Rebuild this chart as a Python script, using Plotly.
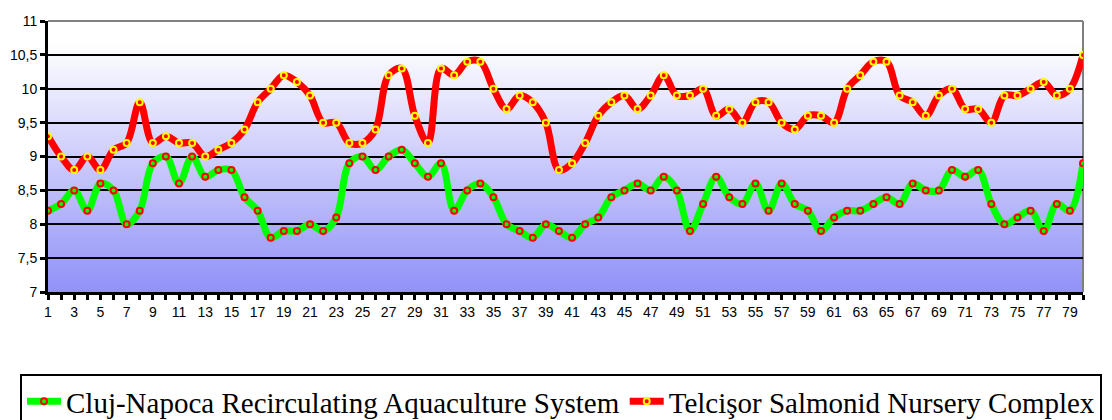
import base64
import plotly.graph_objects as go

# Daily readings, days 1-80
days = list(range(1, 81))

cluj_napoca = [
    8.2, 8.3, 8.5, 8.2, 8.6, 8.5, 8.0, 8.2, 8.9, 9.0,
    8.6, 9.0, 8.7, 8.8, 8.8, 8.4, 8.2, 7.8, 7.9, 7.9,
    8.0, 7.9, 8.1, 8.9, 9.0, 8.8, 9.0, 9.1, 8.9, 8.7,
    8.9, 8.2, 8.5, 8.6, 8.4, 8.0, 7.9, 7.8, 8.0, 7.9,
    7.8, 8.0, 8.1, 8.4, 8.5, 8.6, 8.5, 8.7, 8.5, 7.9,
    8.3, 8.7, 8.4, 8.3, 8.6, 8.2, 8.6, 8.3, 8.2, 7.9,
    8.1, 8.2, 8.2, 8.3, 8.4, 8.3, 8.6, 8.5, 8.5, 8.8,
    8.7, 8.8, 8.3, 8.0, 8.1, 8.2, 7.9, 8.3, 8.2, 8.9,
]

telcisor = [
    9.3, 9.0, 8.8, 9.0, 8.8, 9.1, 9.2, 9.8, 9.2, 9.3,
    9.2, 9.2, 9.0, 9.1, 9.2, 9.4, 9.8, 10.0, 10.2, 10.1,
    9.9, 9.5, 9.5, 9.2, 9.2, 9.4, 10.2, 10.3, 9.6, 9.2,
    10.3, 10.2, 10.4, 10.4, 10.0, 9.7, 9.9, 9.8, 9.5, 8.8,
    8.9, 9.2, 9.6, 9.8, 9.9, 9.7, 9.9, 10.2, 9.9, 9.9,
    10.0, 9.6, 9.7, 9.5, 9.8, 9.8, 9.5, 9.4, 9.6, 9.6,
    9.5, 10.0, 10.2, 10.4, 10.4, 9.9, 9.8, 9.6, 9.9, 10.0,
    9.7, 9.7, 9.5, 9.9, 9.9, 10.0, 10.1, 9.9, 10.0, 10.5,
]

y_ticks = [7, 7.5, 8, 8.5, 9, 9.5, 10, 10.5, 11]
y_tick_labels = ["7", "7,5", "8", "8,5", "9", "9,5", "10", "10,5", "11"]
x_tick_labels = [str(d) if d % 2 == 1 else "" for d in days]

names = ["Cluj-Napoca Recirculating Aquaculture System",
         "Telcişor Salmonid Nursery Complex"]

fig = go.Figure()

fig.add_trace(go.Scatter(
    x=days, y=cluj_napoca, name=names[0], mode="lines+markers",
    line=dict(color="#00FF00", width=7, shape="spline", smoothing=1.0),
    marker=dict(symbol="circle", size=6, color="#00FF00",
                line=dict(color="#FF0000", width=2)),
))
fig.add_trace(go.Scatter(
    x=days, y=telcisor, name=names[1], mode="lines+markers",
    line=dict(color="#FF0000", width=7, shape="spline", smoothing=1.0),
    marker=dict(symbol="circle", size=6, color="#FF0000",
                line=dict(color="#FFFF00", width=2)),
))

# Vertical white-to-blue gradient behind the plot area
svg = (
    "<svg xmlns='http://www.w3.org/2000/svg' width='10' height='100' "
    "viewBox='0 0 10 100' preserveAspectRatio='none'>"
    "<defs><linearGradient id='g' x1='0' y1='0' x2='0' y2='1'>"
    "<stop offset='0' stop-color='#ffffff'/>"
    "<stop offset='0.08' stop-color='#ffffff'/>"
    "<stop offset='1' stop-color='#9191f8'/>"
    "</linearGradient></defs>"
    "<rect x='0' y='0' width='10' height='100' fill='url(#g)'/></svg>"
)
svg_uri = "data:image/svg+xml;base64," + base64.b64encode(svg.encode()).decode()

fig.add_layout_image(dict(
    source=svg_uri, xref="paper", yref="paper", x=0, y=1,
    sizex=1, sizey=1, xanchor="left", yanchor="top",
    sizing="stretch", layer="below",
))

# Grey frame on top and right edges of the plot area
fig.add_shape(type="line", xref="paper", yref="paper", x0=0, x1=1, y0=1, y1=1,
              line=dict(color="#808080", width=2), layer="between")
fig.add_shape(type="line", xref="paper", yref="paper", x0=1, x1=1, y0=0, y1=1,
              line=dict(color="#808080", width=2), layer="between")

tick_font = dict(family="Liberation Sans, Arial, sans-serif", size=14, color="#000000")

fig.update_layout(
    width=1112, height=420,
    margin=dict(l=48, r=29, t=21, b=128, autoexpand=False),
    paper_bgcolor="#FFFFFF",
    plot_bgcolor="rgba(0,0,0,0)",
    showlegend=True,
    xaxis=dict(
        range=[1, 80], tickmode="array", tickvals=days, ticktext=x_tick_labels,
        ticks="outside", ticklen=5, tickwidth=3, tickcolor="#000000",
        showline=True, linecolor="#000000", linewidth=3,
        showgrid=False, zeroline=False, tickfont=tick_font,
        ticklabelstandoff=0,
    ),
    xaxis2=dict(
        range=[1, 80], overlaying="x", anchor="y", side="bottom",
        tickmode="array", tickvals=days, ticks="inside", ticklen=5,
        tickwidth=3, tickcolor="#000000", showticklabels=False,
        showgrid=False, showline=False, zeroline=False,
    ),
    yaxis=dict(
        range=[7, 11], tickmode="array", tickvals=y_ticks, ticktext=y_tick_labels,
        ticks="outside", ticklen=5, tickwidth=3, tickcolor="#000000",
        showline=True, linecolor="#000000", linewidth=3,
        showgrid=True, gridcolor="#000000", gridwidth=2,
        zeroline=False, tickfont=tick_font,
    ),
    yaxis2=dict(
        range=[7, 11], overlaying="y", anchor="x", side="left",
        tickmode="array", tickvals=y_ticks, ticks="inside", ticklen=5,
        tickwidth=3, tickcolor="#000000", showticklabels=False,
        showgrid=False, showline=False, zeroline=False,
    ),
    legend=dict(
        orientation="h", xref="paper", yref="paper",
        x=(20 - 48) / 1035, y=(292 - 374) / 271, xanchor="left", yanchor="top",
        bgcolor="#FFFFFF", bordercolor="#000000", borderwidth=2,
        font=dict(family="Liberation Serif, Times New Roman, serif", size=29, color="#000000"),
        itemwidth=34, tracegroupgap=0,
    ),
)

fig.write_html("out.html")
